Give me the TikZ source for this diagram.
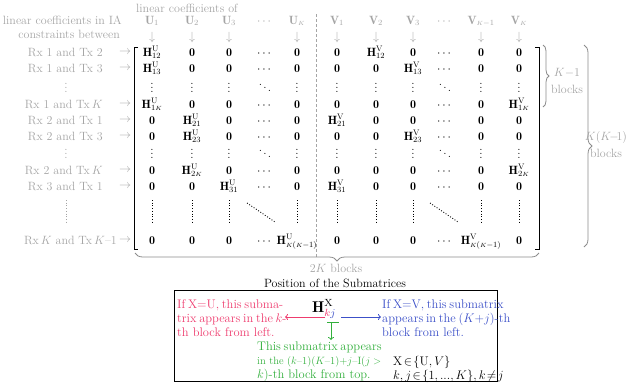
\documentclass[tikz,border=0pt]{standalone}
\usepackage{amsmath,amssymb}
\usepackage{fontspec}
\usetikzlibrary{decorations.pathreplacing,arrows.meta}
\definecolor{gray1}{RGB}{165,165,165}
\definecolor{brc}{RGB}{140,140,140}
\definecolor{myred}{RGB}{238,60,110}
\definecolor{myblue}{RGB}{60,80,200}
\definecolor{mygreen}{RGB}{50,175,60}
\newcommand{\Hm}[2]{\mathbf{H}^{\mathrm{#1}}_{#2}}
\newcommand{\sK}{{\scriptscriptstyle K}}
\newcommand{\z}{\mathbf{0}}
\newcommand{\btext}[1]{\scalebox{1.04}{\fontsize{12}{13.46}\selectfont\begin{tabular}{@{}l@{}}#1\end{tabular}}}
\newcommand{\mrow}[3]{%
  \foreach \e [count=\i] in {#3} {%
    \pgfmathsetmacro{\xx}{{152,192,229,265,297,337,376,413,445,481,519}[\i-1]}
    \node[ent,anchor=base] (#1-\i) at (\xx,#2+4) {$\e$};}}
\newcommand{\vrow}[2]{\mrow{#1}{#2}{\vdots,\vdots,\vdots,\ddots,\vdots,\vdots,\vdots,\vdots,\ddots,\vdots,\vdots}}
\begin{document}
\begin{tikzpicture}[x=1pt,y=-1pt,font=\fontsize{12}{15}\selectfont,
  ent/.style={inner sep=0pt},
  lab/.style={text=gray1,inner sep=0pt},
  rowlab/.style={lab,anchor=base east},
  boxtxt/.style={inner sep=0pt,anchor=north west},
  bracebig/.style={draw=brc,line width=0.8pt,decorate,decoration={brace,amplitude=8pt}},
  mbracket/.style={line width=1pt},
  dotcol/.style={line width=0.9pt,dash pattern=on 0.9pt off 1.8pt},
  colarrow/.style={line width=0.8pt,-{To[length=3pt,width=6pt]}}]
\useasboundingbox (0,0) rectangle (629,384);

% headers
\node[lab] (hdr) at (187,8) {linear coefficients of};
\node[lab,anchor=base east] (hl1) at (122,24) {linear coefficients in IA};
\node[lab,anchor=base east] (hl2) at (120,38) {constraints between};
\foreach \e [count=\i] in {\mathbf{U}_1,\mathbf{U}_2,\mathbf{U}_3,\cdots,\mathbf{U}_{\sK},\mathbf{V}_1,\mathbf{V}_2,\mathbf{V}_3,\cdots,\mathbf{V}_{\sK-1},\mathbf{V}_{\sK}} {%
  \pgfmathsetmacro{\xx}{{152,192,229,265,297,337,376,413,445,481,519}[\i-1]}
  \node[lab,anchor=base] (h-\i) at (\xx,24) {$\e$};}
\foreach \i in {1,2,3,5,6,7,8,10,11} {%
  \pgfmathsetmacro{\xx}{{152,192,229,265,297,337,376,413,445,481,519}[\i-1]}
  \node[lab] (d-\i) at (\xx,37) {$\downarrow$};}

% row labels
\node[rowlab] (l1) at (103,56) {Rx 1 and Tx 2};
\node[rowlab] (l2) at (103,72) {Rx 1 and Tx 3};
\node[lab,anchor=base] (l3) at (66,92) {$\vdots$};
\node[rowlab] (l4) at (103,108) {Rx 1 and Tx\,$K$};
\node[rowlab] (l5) at (103,124) {Rx 2 and Tx 1};
\node[rowlab] (l6) at (103,140) {Rx 2 and Tx 3};
\node[lab,anchor=base] (l7) at (66,158) {$\vdots$};
\node[rowlab] (l8) at (103,174) {Rx 2 and Tx\,$K$};
\node[rowlab] (l9) at (103,190) {Rx 3 and Tx 1};
\node[rowlab] (l11) at (117,244) {Rx\,$K$ and Tx\,$K$\textendash1};
\foreach \y/\n in {52/1,68/2,104/4,120/5,136/6,170/8,186/9,240/11} {%
  \node[lab] (ar-\n) at (125,\y) {$\rightarrow$};}
\draw[gray1,dotcol] (66,200) -- (66,223);

% matrix
\mrow{r1}{52}{\Hm{U}{12},\z,\z,\cdots,\z,\z,\Hm{V}{12},\z,\cdots,\z,\z}
\mrow{r2}{68}{\Hm{U}{13},\z,\z,\cdots,\z,\z,\z,\Hm{V}{13},\cdots,\z,\z}
\vrow{r3}{88}
\mrow{r4}{104}{\Hm{U}{1\sK},\z,\z,\cdots,\z,\z,\z,\z,\cdots,\z,\Hm{V}{1\sK}}
\mrow{r5}{120}{\z,\Hm{U}{21},\z,\cdots,\z,\Hm{V}{21},\z,\z,\cdots,\z,\z}
\mrow{r6}{136}{\z,\Hm{U}{23},\z,\cdots,\z,\z,\z,\Hm{V}{23},\cdots,\z,\z}
\vrow{r7}{154}
\mrow{r8}{170}{\z,\Hm{U}{2\sK},\z,\cdots,\z,\z,\z,\z,\cdots,\z,\Hm{V}{2\sK}}
\mrow{r9}{186}{\z,\z,\Hm{U}{31},\cdots,\z,\Hm{V}{31},\z,\z,\cdots,\z,\z}
\mrow{r11}{240}{\z,\z,\z,\cdots,\Hm{U}{\sK(\sK-1)},\z,\z,\z,\cdots,\Hm{V}{\sK(\sK-1)},\z}
\foreach \xx in {152,192,229,297,337,376,413,481,519} {\draw[dotcol] (\xx,200) -- (\xx,223);}
\draw[dotcol] (247,203) -- (275,222);
\draw[dotcol] (430,203) -- (458,222);

% separators and brackets
\draw[gray1,line width=0.6pt,dash pattern=on 3pt off 2pt] (316,14) -- (316,258);
\draw[mbracket] (138,47) -- (134,47) -- (134,249) -- (138,249);
\draw[mbracket] (535,47) -- (539,47) -- (539,249) -- (535,249);

% braces
\draw[bracebig,decoration={brace,amplitude=6pt}] (543,45) -- (543,107);
\node[lab] (b1a) at (567,73) {$K{-}1$};
\node[lab] (b1b) at (567,89) {blocks};
\draw[bracebig] (584,45) -- (584,247);
\node[lab] (b2a) at (606,137) {$K(K\!{-}\!1)$};
\node[lab] (b2b) at (606,153) {blocks};
\draw[bracebig] (539,253) -- (135,253);
\node[lab] (b3) at (336,268) {$2K$ blocks};

% lower panel
\node (title) at (335,283) {Position of the Submatrices};
\draw[line width=0.8pt] (174,290) rectangle (497,381);
\node[inner sep=0pt,anchor=base west] (HX) at (312,312)
  {\scalebox{1.3}{$\mathbf{H}^{\mathrm{X}}_{\textcolor{myred}{k}\textcolor{myblue}{j}}$}};
\coordinate (kpos) at (325,317);
\coordinate (jpos) at (341,317);
\coordinate (redend) at (285,317);
\coordinate (blueend) at (381,317);
\coordinate (gtop) at (331,322);
\coordinate (gend) at (331,340);
\draw[myred,colarrow] (kpos) -- (redend);
\draw[myblue,colarrow] (jpos) -- (blueend);
\draw[mygreen,line width=0.8pt] (327,322) -- (339,322);
\draw[mygreen,colarrow] (gtop) -- (gend);
\node[boxtxt,text=myred] (redtxt) at (177,298)
  {\btext{\makebox[101.9pt][s]{If X{=}U, this subma-}\\\makebox[103.8pt][s]{trix appears in the $k$-}\\th block from left.}};
\node[boxtxt,text=myblue] (bluetxt) at (382,298)
  {\btext{\makebox[106.7pt][s]{If X{=}V, this submatrix}\\\makebox[106.7pt][s]{appears in the $(K{+}j)$-th}\\block from left.}};
\node[boxtxt,text=mygreen] (greentxt) at (257,340)
  {\btext{\makebox[119.2pt][s]{This submatrix appears}\\\resizebox{119.2pt}{!}{in the $(k$\textendash$1)(K$\textendash$1){+}j$\textendash$\mathrm{I}(j\;{>}$}\\$k$)-th block from top.}};
\node[boxtxt] (settxt) at (393,355.5)
  {\btext{$\mathrm{X}\!\in\!\{\mathrm{U},V\}$\\$k,j\!\in\!\{1,...,K\},k\!\neq\!j$}};
\end{tikzpicture}
\end{document}
